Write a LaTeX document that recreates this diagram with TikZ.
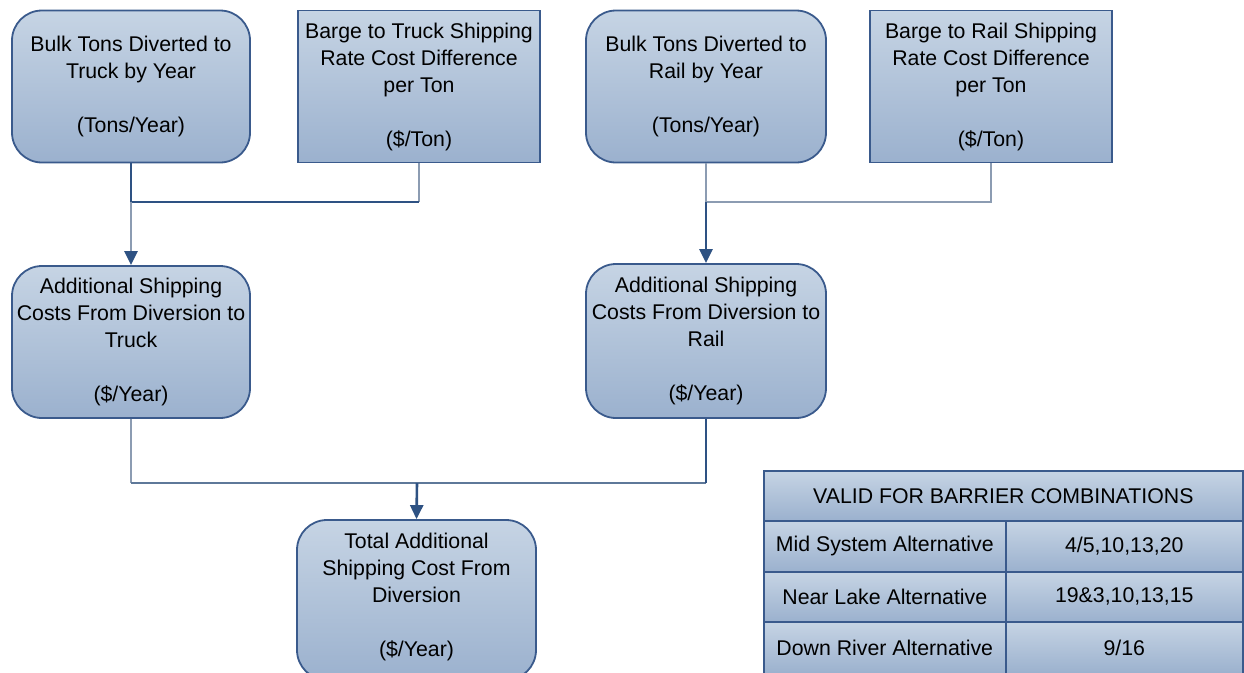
\documentclass[tikz,border=0pt]{standalone}
\usepackage{fontspec}
\setmainfont{Liberation Sans}
\usetikzlibrary{arrows.meta,calc}
\definecolor{bdr}{HTML}{3A5A8C}
\definecolor{topc}{HTML}{C6D4E4}
\definecolor{botc}{HTML}{9BB1CE}
\definecolor{lnd}{HTML}{2E5283}
\definecolor{lng}{HTML}{8C9CB2}
\definecolor{lnm}{HTML}{5E7899}
\tikzset{
  box/.style={draw=bdr, line width=1.8pt, top color=topc, bottom color=botc,
    minimum width=238pt, minimum height=152pt, align=center, inner sep=0pt,
    font=\fontsize{21.3}{27}\selectfont},
  rbox/.style={box, rounded corners=30pt},
  sbox/.style={box, minimum width=242pt},
  cell/.style={draw=bdr, line width=1.6pt, top color=topc, bottom color=botc,
    inner sep=0pt, font=\fontsize{21.3}{24}\selectfont, anchor=north west},
  conn/.style={line width=2.6pt, lnd},
  conng/.style={line width=2.6pt, lng},
  arr/.style={-{Triangle[width=13pt,length=14pt,color=lnd]}, line width=2.6pt, lng},
}
\begin{document}
\begin{tikzpicture}[x=1pt,y=-1pt]
\useasboundingbox (0,0) rectangle (1244,672);
\node[rbox] (b1) at (131,86.5) {Bulk Tons Diverted to\\Truck by Year\\[27pt](Tons/Year)};
\node[sbox] (b2) at (419,86.5) {Barge to Truck Shipping\\Rate Cost Difference\\per Ton\\[27pt](\$/Ton)};
\node[rbox, minimum width=240pt] (b3) at (706,86.5) {Bulk Tons Diverted to\\Rail by Year\\[27pt](Tons/Year)};
\node[sbox] (b4) at (991,86.5) {Barge to Rail Shipping\\Rate Cost Difference\\per Ton\\[27pt](\$/Ton)};
\node[rbox] (b5) at (131,342) {Additional Shipping\\Costs From Diversion to\\Truck\\[27pt](\$/Year)};
\node[rbox, minimum width=240pt, minimum height=154pt] (b6) at (706,341) {Additional Shipping\\Costs From Diversion to\\Rail\\[27pt](\$/Year)};
\node[rbox, minimum width=239pt, minimum height=160pt] (b7) at (416.5,600) {};
\node[align=center, font=\fontsize{21.3}{27}\selectfont] (t7) at (416.5,596.5) {Total Additional\\Shipping Cost From\\Diversion\\[27pt](\$/Year)};
% connectors
\coordinate (j1) at (131,202);
\coordinate (j2) at (706,202);
\coordinate (j3) at (417,483);
\draw[conng] (b2.south) -- (b2.south |- j1);
\draw[conn] (b1.south) |- (b2.south |- j1);
\draw[arr] (j1) -- (b5.north);
\draw[conng] (b3.south) -- (j2) -| (b4.south);
\draw[arr, lnd] (j2) -- (b6.north);
\draw[conng] (b5.south) -- (b5.south |- j3);
\draw[line width=2.6pt, lnm] (b5.south |- j3) -- (b6.south |- j3);
\draw[conn] (b6.south) -- (b6.south |- j3);
\draw[arr, lnd] (j3) -- (b7.north);
% table
\node[cell, minimum width=479pt, minimum height=50pt] (h) at (763,470) {VALID FOR BARRIER COMBINATIONS};
\node[cell, minimum width=242pt, minimum height=51pt] (r1a) at (763,520) {Mid System Alternative};
\node[cell, minimum width=237pt, minimum height=51pt] (r1b) at (1005,520) {4/5,10,13,20};
\node[cell, minimum width=242pt, minimum height=50pt] (r2a) at (763,571) {Near Lake Alternative};
\node[cell, minimum width=237pt, minimum height=50pt] (r2b) at (1005,571) {19\&3,10,13,15};
\node[cell, minimum width=242pt, minimum height=52pt] (r3a) at (763,621) {Down River Alternative};
\node[cell, minimum width=237pt, minimum height=52pt] (r3b) at (1005,621) {9/16};
\end{tikzpicture}
\end{document}
